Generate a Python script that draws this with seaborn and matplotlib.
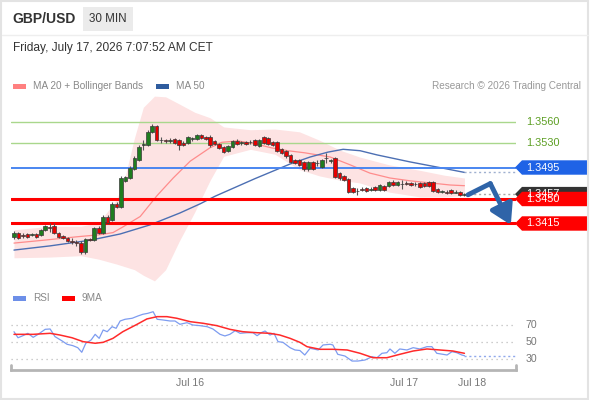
import numpy as np
import pandas as pd
import matplotlib.pyplot as plt
import matplotlib.transforms as mtransforms
from matplotlib.patches import Polygon, Rectangle
from matplotlib.lines import Line2D
import seaborn as sns

sns.set_theme(style="white")
plt.rcParams["font.family"] = ["Liberation Sans", "DejaVu Sans"]

# ------------------------------
# Data (30 min candles)
# ------------------------------
opens = [1.3396, 1.3401, 1.3399, 1.3400, 1.3399, 1.3400, 1.3399, 1.3406, 1.3410, 1.3411,
         1.3401, 1.3397, 1.3394, 1.3390, 1.3389, 1.3387, 1.3374, 1.3393, 1.3391, 1.3409,
         1.3401, 1.3424, 1.3420, 1.3443, 1.3439, 1.3476, 1.3480, 1.3493, 1.3506, 1.3527,
         1.3527, 1.3546, 1.3554, 1.3534, 1.3534, 1.3533, 1.3536, 1.3534, 1.3530, 1.3530,
         1.3536, 1.3536, 1.3541, 1.3539, 1.3539, 1.3533, 1.3529, 1.3524, 1.3519, 1.3524,
         1.3533, 1.3530, 1.3531, 1.3531, 1.3534, 1.3526, 1.3539, 1.3537, 1.3531, 1.3531,
         1.3521, 1.3519, 1.3513, 1.3506, 1.3506, 1.3503, 1.3493, 1.3503, 1.3501, 1.3496,
         1.3509, 1.3504, 1.3509, 1.3487, 1.3483, 1.3479, 1.3466, 1.3461, 1.3464, 1.3466,
         1.3463, 1.3467, 1.3463, 1.3469, 1.3469, 1.3474, 1.3470, 1.3471, 1.3473, 1.3473,
         1.3471, 1.3473, 1.3473, 1.3474, 1.3474, 1.3464, 1.3460, 1.3460, 1.3463, 1.3459,
         1.3460, 1.3456]
highs = [1.3404, 1.3403, 1.3401, 1.3401, 1.3401, 1.3401, 1.3407, 1.3413, 1.3416, 1.3416,
         1.3403, 1.3399, 1.3396, 1.3394, 1.3391, 1.3390, 1.3394, 1.3394, 1.3410, 1.3411,
         1.3427, 1.3427, 1.3446, 1.3446, 1.3483, 1.3483, 1.3497, 1.3511, 1.3527, 1.3534,
         1.3549, 1.3557, 1.3556, 1.3539, 1.3536, 1.3537, 1.3537, 1.3536, 1.3533, 1.3540,
         1.3539, 1.3543, 1.3543, 1.3540, 1.3541, 1.3534, 1.3530, 1.3526, 1.3527, 1.3534,
         1.3536, 1.3533, 1.3533, 1.3534, 1.3536, 1.3536, 1.3540, 1.3539, 1.3533, 1.3533,
         1.3523, 1.3520, 1.3514, 1.3507, 1.3507, 1.3504, 1.3504, 1.3504, 1.3506, 1.3507,
         1.3516, 1.3507, 1.3510, 1.3489, 1.3484, 1.3480, 1.3467, 1.3466, 1.3467, 1.3467,
         1.3467, 1.3469, 1.3471, 1.3470, 1.3476, 1.3477, 1.3476, 1.3477, 1.3476, 1.3474,
         1.3474, 1.3474, 1.3474, 1.3476, 1.3476, 1.3466, 1.3463, 1.3463, 1.3464, 1.3463,
         1.3461, 1.3459]
lows = [1.3393, 1.3393, 1.3394, 1.3394, 1.3397, 1.3394, 1.3397, 1.3404, 1.3403, 1.3400,
        1.3394, 1.3393, 1.3389, 1.3386, 1.3383, 1.3371, 1.3371, 1.3390, 1.3390, 1.3400,
        1.3400, 1.3414, 1.3419, 1.3437, 1.3437, 1.3474, 1.3479, 1.3491, 1.3504, 1.3520,
        1.3526, 1.3544, 1.3533, 1.3530, 1.3530, 1.3530, 1.3529, 1.3520, 1.3526, 1.3529,
        1.3533, 1.3534, 1.3536, 1.3534, 1.3524, 1.3527, 1.3521, 1.3516, 1.3517, 1.3523,
        1.3527, 1.3527, 1.3527, 1.3529, 1.3526, 1.3524, 1.3529, 1.3527, 1.3526, 1.3517,
        1.3514, 1.3509, 1.3501, 1.3500, 1.3497, 1.3490, 1.3490, 1.3491, 1.3497, 1.3494,
        1.3501, 1.3501, 1.3480, 1.3477, 1.3476, 1.3459, 1.3459, 1.3456, 1.3461, 1.3460,
        1.3461, 1.3461, 1.3461, 1.3461, 1.3467, 1.3469, 1.3469, 1.3464, 1.3470, 1.3469,
        1.3469, 1.3466, 1.3467, 1.3467, 1.3460, 1.3459, 1.3459, 1.3457, 1.3457, 1.3458,
        1.3454, 1.3454]
closes = [1.3401, 1.3394, 1.3397, 1.3396, 1.3400, 1.3396, 1.3406, 1.3411, 1.3409, 1.3401,
          1.3396, 1.3394, 1.3390, 1.3389, 1.3387, 1.3374, 1.3393, 1.3391, 1.3409, 1.3401,
          1.3424, 1.3416, 1.3443, 1.3439, 1.3480, 1.3481, 1.3494, 1.3509, 1.3524, 1.3529,
          1.3546, 1.3554, 1.3534, 1.3535, 1.3533, 1.3534, 1.3530, 1.3527, 1.3527, 1.3539,
          1.3537, 1.3541, 1.3537, 1.3536, 1.3527, 1.3529, 1.3523, 1.3517, 1.3526, 1.3533,
          1.3529, 1.3531, 1.3529, 1.3532, 1.3527, 1.3534, 1.3530, 1.3529, 1.3527, 1.3519,
          1.3516, 1.3511, 1.3503, 1.3501, 1.3499, 1.3493, 1.3503, 1.3493, 1.3502, 1.3506,
          1.3508, 1.3506, 1.3481, 1.3480, 1.3477, 1.3460, 1.3460, 1.3462, 1.3463, 1.3461,
          1.3464, 1.3463, 1.3470, 1.3463, 1.3474, 1.3470, 1.3474, 1.3472, 1.3472, 1.3470,
          1.3472, 1.3467, 1.3469, 1.3469, 1.3461, 1.3460, 1.3461, 1.3459, 1.3459, 1.3460,
          1.3456, 1.3457]

# MA 20 + Bollinger Bands, MA 50 (x in candle index)
ma20_idx = [0, 6.5, 14.1, 19.3, 22.2, 24.4, 28.3, 32.1, 35.7, 39.5, 43.9, 46.6, 50.2,
            54.0, 57.8, 61.4, 65.2, 70.9, 75.3, 79.8, 84.3, 88.8, 93.3, 97.8, 101]
ma20 = [1.3387, 1.3391, 1.3396, 1.3399, 1.3402, 1.3410, 1.3425, 1.3455, 1.3480, 1.3504,
        1.3523, 1.3531, 1.3533, 1.3529, 1.3523, 1.3519, 1.3516, 1.3510, 1.3499, 1.3487,
        1.3480, 1.3476, 1.3473, 1.3470, 1.3469]
band_idx = [0, 8, 15, 19, 23, 25, 27, 29, 31.5, 34, 37, 40.5, 44, 47, 53, 58.5, 64,
            68.5, 73, 77.5, 84, 91, 96.5, 101]
band_up = [1.3406, 1.3411, 1.3411, 1.3416, 1.3449, 1.3484, 1.3537, 1.3581, 1.3597, 1.3596,
           1.3586, 1.3574, 1.3566, 1.3553, 1.3549, 1.3550, 1.3546, 1.3534, 1.3520, 1.3510,
           1.3499, 1.3491, 1.3484, 1.3480]
band_low = [1.3366, 1.3367, 1.3369, 1.3364, 1.3357, 1.3353, 1.3349, 1.3341, 1.3333, 1.3349,
            1.3389, 1.3431, 1.3477, 1.3511, 1.3521, 1.3514, 1.3492, 1.3483, 1.3477, 1.3473,
            1.3460, 1.3453, 1.3453, 1.3455]
ma50_idx = [0, 8.1, 17.0, 23.8, 30.5, 37.2, 41.7, 45.1, 54.0, 61.9, 66.4, 70.4, 73.8,
            77.6, 81.4, 88.8, 96.2, 101]
ma50 = [1.3377, 1.3383, 1.3391, 1.3400, 1.3413, 1.3430, 1.3443, 1.3454, 1.3479, 1.3500,
        1.3510, 1.3517, 1.3521, 1.3519, 1.3513, 1.3503, 1.3494, 1.3488]

# support / resistance levels
resistances = [1.3560, 1.3530]
pivot = 1.3495
supports = [1.3450, 1.3415]

# forecast arrow
fc_idx = [101.8, 106.8, 111.4]
fc_price = [1.3456, 1.3472, 1.3413]

# RSI panel
rsi_idx = [0, 0.9, 2.0, 3.1, 4.3, 5.4, 7.0, 8.1, 9.2, 10.8, 11.9, 13.2, 14.3, 15.2, 16.1,
           17.3, 18.2, 19.1, 20.0, 20.9, 22.0, 22.9, 23.8, 24.9, 26.5, 27.8, 28.9, 30.0,
           31.2, 32.1, 33.4, 35.0, 36.1, 37.2, 38.8, 40.1, 41.7, 43.3, 44.6, 46.2, 47.3,
           48.4, 49.6, 50.7, 52.2, 53.6, 54.5, 55.6, 56.3, 57.4, 58.3, 59.2, 60.3, 61.9,
           63.0, 64.1, 65.2, 66.4, 68.2, 69.3, 70.9, 71.5, 72.6, 74.2, 75.8, 77.1, 78.7,
           80.3, 81.4, 82.5, 83.6, 84.3, 85.4, 86.5, 88.1, 89.5, 91.0, 92.6, 93.7, 94.8,
           96.2, 97.1, 98.2, 99.3, 100.4, 101]
rsi = [62.1, 55.0, 57.4, 60.2, 55.5, 59.0, 64.9, 65.3, 56.3, 51.2, 47.3, 45.7, 43.3, 37.9,
       48.5, 52.4, 59.0, 54.3, 64.1, 62.1, 68.0, 66.1, 74.7, 76.7, 77.9, 80.6, 82.6, 83.7,
       85.6, 76.7, 75.9, 74.7, 74.7, 70.8, 72.7, 70.0, 69.2, 68.0, 65.3, 59.0, 57.1, 59.0,
       63.3, 60.2, 60.9, 60.9, 57.4, 61.4, 62.9, 58.2, 60.2, 50.4, 49.6, 43.3, 40.6, 40.0,
       34.7, 42.6, 40.6, 46.5, 47.3, 46.5, 35.5, 33.5, 27.6, 27.6, 28.8, 32.7, 31.5, 36.7,
       37.4, 41.8, 36.7, 41.8, 40.6, 43.3, 41.8, 44.5, 44.5, 36.7, 35.5, 34.7, 38.6, 37.4,
       34.7, 33.9]
rsi_ma_idx = [0, 4.3, 8.1, 10.3, 13.0, 15.5, 18.2, 20.0, 22.2, 24.4, 27.6, 29.8, 32.1,
              34.3, 36.5, 39.5, 42.4, 45.5, 48.4, 51.3, 54.5, 57.4, 59.6, 61.9, 64.1,
              65.7, 68.6, 71.5, 74.7, 77.6, 80.5, 83.6, 86.5, 89.5, 92.6, 95.5, 98.4, 101]
rsi_ma = [59.0, 59.0, 60.2, 58.2, 55.0, 50.4, 48.5, 49.6, 54.3, 62.1, 70.8, 77.1, 79.8,
          79.8, 77.9, 73.9, 72.0, 69.2, 64.9, 62.1, 60.9, 60.2, 58.2, 54.3, 49.6, 44.5,
          41.4, 41.4, 40.6, 36.7, 31.5, 31.5, 35.5, 39.4, 41.8, 40.6, 39.4, 36.7]
rsi_levels = [70, 50, 30]

date_pos = [39.5, 87.4, 102.7]
date_labels = ["Jul 16", "Jul 17", "Jul 18"]

# ------------------------------
# Figure layout
# ------------------------------
W, H = 590, 400
fig = plt.figure(figsize=(W / 100, H / 100), dpi=100)
fig.patch.set_facecolor("white")

x_lo, x_hi = -0.67, 112.56
y_lo, y_hi = 1.33271, 1.36029
rsi_lo, rsi_hi = 17.06, 93.5

ax = fig.add_axes([11 / W, 1 - 285 / H, 505 / W, 193 / H])
ax.set_axis_off()

# Bollinger band + moving averages
ax.fill_between(band_idx, band_low, band_up, color="#fde3e3", lw=0, zorder=1)
sns.lineplot(x=ma20_idx, y=ma20, ax=ax, color="#ff8c8c", lw=0.9, sort=False,
             estimator=None, zorder=2)
sns.lineplot(x=ma50_idx, y=ma50, ax=ax, color="#4c6fb3", lw=1.0, sort=False,
             estimator=None, zorder=2)

# levels
for lv in resistances:
    ax.axhline(lv, color="#a9d78c", lw=1.0, zorder=1.5)
ax.axhline(pivot, color="#4a86f0", lw=1.4, zorder=2.5)
for lv in supports:
    ax.axhline(lv, color="#ff0000", lw=2.2, zorder=2.5)

# candles
o = np.array(opens)
c = np.array(closes)
xs = np.arange(len(o))
up = c >= o
body_bottom = np.minimum(o, c)
body_h = np.maximum(np.abs(c - o), 0.00006)
ax.vlines(xs, lows, highs, color="#555555", lw=0.8, zorder=3)
ax.bar(xs, body_h, bottom=body_bottom, width=0.8,
       color=np.where(up, "#1f7d1f", "#e60000"), edgecolor="#3a3a3a",
       linewidth=0.5, zorder=4)

# dotted extensions to the right edge
ax.hlines(ma50[-1], ma50_idx[-1], x_hi, colors="#9fb0d0", linestyles=(0, (1.5, 2)),
          lw=1.0, zorder=2)
ax.hlines(closes[-1], len(closes) - 1, x_hi, colors="#a8a8a8", linestyles=(0, (1.5, 2)),
          lw=1.0, zorder=2)

# forecast arrow
arrow_col = "#2f64a8"
ax.plot(fc_idx[:2], fc_price[:2], color=arrow_col, lw=3.5, solid_capstyle="round",
        zorder=6)
ax.annotate("", xy=(fc_idx[2], fc_price[2]), xytext=(fc_idx[1], fc_price[1]),
            arrowprops=dict(arrowstyle="-|>,head_width=0.6,head_length=1.0",
                            color=arrow_col, lw=3.5, shrinkA=0, shrinkB=0,
                            capstyle="round"),
            zorder=6)

ax.set_xlim(x_lo, x_hi)
ax.set_ylim(y_lo, y_hi)

# price tags on the right
trans = mtransforms.blended_transform_factory(ax.transAxes, ax.transData)
half = 7.2 * (y_hi - y_lo) / 193
tx0, tx1, tx2 = (515 - 11) / 505, (522 - 11) / 505, (587 - 11) / 505
text_x = (526 - 11) / 505


def price_tag(level, face):
    poly = Polygon([[tx0, level], [tx1, level + half], [tx2, level + half],
                    [tx2, level - half], [tx1, level - half]], closed=True,
                   transform=trans, facecolor=face, edgecolor="none",
                   clip_on=False, zorder=7)
    ax.add_patch(poly)
    ax.text(text_x, level, f"{level:.4f}", transform=trans, color="white",
            fontsize=7.8, va="center", ha="left", clip_on=False, zorder=8)


for lv in resistances:
    ax.text(text_x, lv, f"{lv:.4f}", transform=trans, color="#5c9e22",
            fontsize=7.8, va="center", ha="left", clip_on=False)
price_tag(pivot, "#1f63e6")
price_tag(closes[-1], "#333333")
for lv in supports:
    price_tag(lv, "#ff0000")

# ------------------------------
# RSI panel
# ------------------------------
rax = fig.add_axes([11 / W, 1 - 370 / H, 505 / W, 65 / H])
rtrans = mtransforms.blended_transform_factory(rax.transAxes, rax.transData)
for lv in rsi_levels:
    rax.axhline(lv, color="#bdbdbd", lw=0.9, ls=(0, (1, 3)), zorder=1)
    rax.text(1.018, lv, str(lv), transform=rtrans, color="#777777", fontsize=7.6,
             va="center", ha="left", clip_on=False)
sns.lineplot(x=rsi_idx, y=rsi, ax=rax, color="#7d9cf0", lw=0.9, sort=False,
             estimator=None, zorder=2)
sns.lineplot(x=rsi_ma_idx, y=rsi_ma, ax=rax, color="#ff2a2a", lw=1.1, sort=False,
             estimator=None, zorder=3)
rax.hlines(rsi[-1], rsi_idx[-1], x_hi, colors="#8fa8ec", linestyles=(0, (1.5, 2)),
           lw=1.0, zorder=2)
rax.set_xlim(x_lo, x_hi)
rax.set_ylim(rsi_lo, rsi_hi)

for side in ["top", "left", "right"]:
    rax.spines[side].set_visible(False)
rax.spines["bottom"].set_color("#b5b5b5")
rax.spines["bottom"].set_linewidth(2)
for xe in [0, 1]:
    rax.add_line(Line2D([xe, xe], [0, 0.08], transform=rax.transAxes, color="#b5b5b5",
                        lw=2, clip_on=False))
rax.set_yticks([])
rax.set_xticks(date_pos)
rax.set_xticklabels(date_labels)
rax.tick_params(axis="x", length=0, pad=6, labelsize=7.6, labelcolor="#777777")
rax.set_xlabel("")
rax.set_ylabel("")
rax.set_facecolor("none")

# ------------------------------
# Header, legends, frame
# ------------------------------
def fx(px):
    return px / W


def fy(py):
    return 1 - py / H


fig.text(fx(12), fy(19), "GBP/USD", fontsize=10, fontweight="bold", color="#333333",
         va="center", ha="left")
fig.patches.append(Rectangle((fx(83), fy(31)), 50 / W, 24 / H, transform=fig.transFigure,
                             facecolor="#ebebeb", edgecolor="none"))
fig.text(fx(108), fy(19), "30 MIN", fontsize=8.4, color="#333333", va="center", ha="center")
fig.lines.append(Line2D([0.004, 0.996], [fy(35), fy(35)], transform=fig.transFigure,
                        color="#eeeeee", lw=1))
fig.text(fx(13), fy(48), "Friday, July 17, 2026 7:07:52 AM CET", fontsize=8.6,
         color="#333333", va="center", ha="left")

legend_items = [(13, "#ff8080", "MA 20 + Bollinger Bands", 86),
                (156, "#2f5c9e", "MA 50", 86),
                (13, "#6d8fe8", "RSI", 298),
                (62, "#ff0000", "9MA", 298)]
for lx, col, label, ly in legend_items:
    fig.patches.append(Rectangle((fx(lx), fy(ly + 2.5)), 13 / W, 5 / H,
                                 transform=fig.transFigure, facecolor=col,
                                 edgecolor="none"))
    fig.text(fx(lx + 20), fy(ly), label, fontsize=7.2, color="#888888",
             va="center", ha="left")
fig.text(fx(581), fy(86), "Research \u00a9 2026 Trading Central", fontsize=7.2,
         color="#999999", va="center", ha="right")

fig.patches.append(Rectangle((0.002, 0.003), 0.995, 0.994, transform=fig.transFigure,
                             fill=False, edgecolor="#e3e3e3", lw=1.5))

fig.savefig("out.png", dpi=100)
